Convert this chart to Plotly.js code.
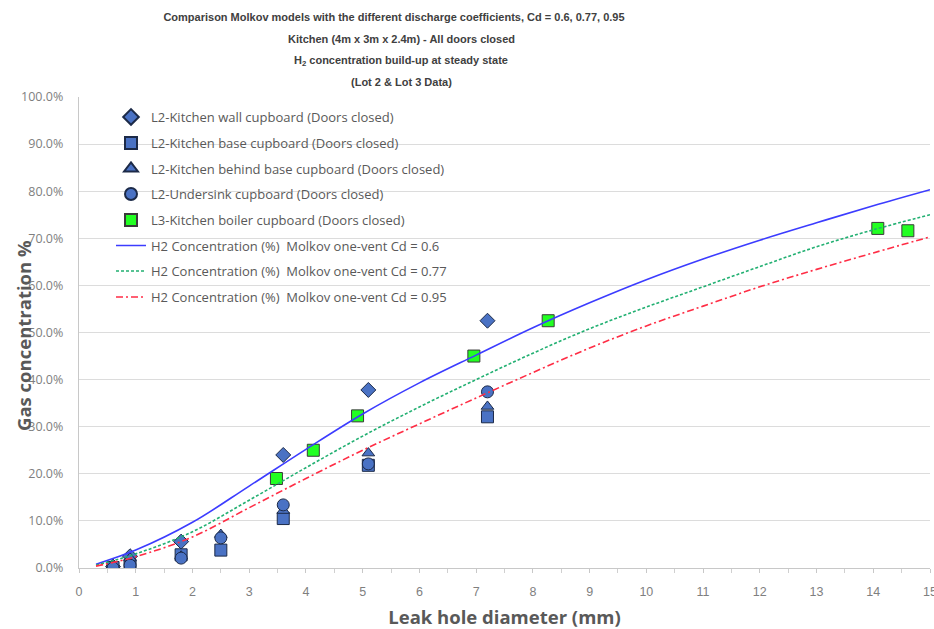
<!DOCTYPE html>
<html>
<head>
<meta charset="utf-8">
<script src="https://cdn.plot.ly/plotly-3.0.1.min.js"></script>
<style>html,body{margin:0;padding:0;background:#fff;}#chart{width:934px;height:629px;}</style>
</head>
<body>
<div id="chart"></div>
<script>
// ---- Measured data (leak hole diameter mm, gas concentration fraction) ----
const wallX = [0.6, 0.9, 1.8, 3.6, 5.1, 7.2];
const wallY = [0.003, 0.025, 0.056, 0.240, 0.378, 0.525];

const baseX = [0.6, 0.9, 1.8, 2.5, 3.6, 5.1, 7.2];
const baseY = [0.001, 0.006, 0.028, 0.038, 0.105, 0.218, 0.321];

const behindX = [0.6, 0.9, 1.8, 2.5, 3.6, 5.1, 7.2];
const behindY = [0.002, 0.021, 0.025, 0.071, 0.122, 0.244, 0.343];

const sinkX = [0.6, 0.9, 1.8, 2.5, 3.6, 5.1, 7.2];
const sinkY = [0.000, 0.006, 0.021, 0.064, 0.134, 0.221, 0.374];

const boilerX = [3.48, 4.13, 4.91, 6.96, 8.27, 14.08, 14.61];
const boilerY = [0.190, 0.250, 0.323, 0.450, 0.525, 0.721, 0.716];

// ---- Molkov one-vent model curves ----
const modelX = [0.3, 1, 2, 3, 4, 5, 6, 7, 8, 9, 10, 11, 12, 13, 14, 15];
const cd060Y = [0.008, 0.038, 0.097, 0.174, 0.252, 0.327, 0.393, 0.452, 0.510, 0.563, 0.612, 0.656, 0.696, 0.733, 0.769, 0.803];
const cd077Y = [0.006, 0.030, 0.077, 0.144, 0.213, 0.280, 0.342, 0.400, 0.456, 0.508, 0.554, 0.597, 0.640, 0.682, 0.718, 0.750];
const cd095Y = [0.004, 0.024, 0.066, 0.128, 0.190, 0.250, 0.306, 0.361, 0.415, 0.467, 0.514, 0.556, 0.597, 0.634, 0.669, 0.703];

const xTicks = [0,1,2,3,4,5,6,7,8,9,10,11,12,13,14,15];

const titleLines = [
  'Comparison Molkov models with the different discharge coefficients, Cd = 0.6, 0.77, 0.95',
  'Kitchen (4m x 3m x 2.4m) - All doors closed',
  'H<sub>2</sub> concentration build-up at steady state',
  '(Lot 2 & Lot 3 Data)'
];
const xTitle = 'Leak hole diameter (mm)';
const yTitle = 'Gas concentration %';

const names = [
  'L2-Kitchen wall cupboard (Doors closed)',
  'L2-Kitchen base cupboard (Doors closed)',
  'L2-Kitchen behind base cupboard (Doors closed)',
  'L2-Undersink cupboard (Doors closed)',
  'L3-Kitchen boiler cupboard (Doors closed)',
  'H2 Concentration (%)  Molkov one-vent Cd = 0.6',
  'H2 Concentration (%)  Molkov one-vent Cd = 0.77',
  'H2 Concentration (%)  Molkov one-vent Cd = 0.95'
];

const blueFill = '#4a72c4', blueEdge = '#1c2a48';
function mk(sym, size, fill, edge){ return {symbol: sym, size: size, color: fill, line: {color: edge, width: 1}}; }

const traces = [
  {x: wallX, y: wallY, name: names[0], mode: 'markers', marker: mk('diamond', 11.5, blueFill, blueEdge), legend: 'legend'},
  {x: baseX, y: baseY, name: names[1], mode: 'markers', marker: mk('square', 12, blueFill, blueEdge), legend: 'legend2'},
  {x: behindX, y: behindY, name: names[2], mode: 'markers', marker: mk('triangle-up', 11, blueFill, blueEdge), legend: 'legend3'},
  {x: sinkX, y: sinkY, name: names[3], mode: 'markers', marker: mk('circle', 12, blueFill, blueEdge), legend: 'legend4'},
  {x: boilerX, y: boilerY, name: names[4], mode: 'markers', marker: mk('square', 12, '#22ff22', '#3a3a3a'), legend: 'legend5'},
  {x: modelX, y: cd060Y, name: names[5], mode: 'lines', line: {color: '#3c3cff', width: 1.6, shape: 'spline'}, legend: 'legend6'},
  {x: modelX, y: cd077Y, name: names[6], mode: 'lines', line: {color: '#22b072', width: 1.6, dash: '3px,2px', shape: 'spline'}, legend: 'legend7'},
  {x: modelX, y: cd095Y, name: names[7], mode: 'lines', line: {color: '#ff2d45', width: 1.6, dash: '7px,3px,2px,3px', shape: 'spline'}, legend: 'legend8'}
];

// plot area: left 79, right 930, top 97, bottom 568
const L = 79, R = 930, T = 97, B = 568;
const pw = R - L, ph = B - T;
const legendRowsPx = [117, 143, 168.5, 194, 220, 245.5, 271, 297];
const legFont = {family: 'Open Sans, DejaVu Sans, sans-serif', size: 13, color: '#595959'};
const titleFont = {family: 'Liberation Sans, Arial, sans-serif', size: 11, color: '#404040', weight: 'bold'};

const layout = {
  width: 934, height: 629,
  margin: {l: L, r: 934 - R, t: T, b: 629 - B, pad: 0},
  paper_bgcolor: '#ffffff', plot_bgcolor: '#ffffff',
  showlegend: true,
  xaxis: {
    range: [0, 15], tickvals: xTicks, ticktext: xTicks.map(String),
    showgrid: false, zeroline: false,
    showline: true, linecolor: '#c8c8c8', linewidth: 1.2,
    ticks: 'outside', ticklen: 4, tickcolor: '#c8c8c8',
    minor: {dtick: 0.5, ticks: 'outside', ticklen: 4, tickcolor: '#d0d0d0', showgrid: false},
    tickfont: {family: 'Liberation Sans, Arial, sans-serif', size: 12.5, color: '#7f7f7f'},
    ticklabelstandoff: 8, ticklabeloverflow: 'allow',
    title: {text: xTitle, font: {family: 'Open Sans, sans-serif', size: 18.5, color: '#595959', weight: 'bold'}, standoff: 12},
    automargin: false
  },
  yaxis: {
    range: [0, 1], dtick: 0.1, tick0: 0, tickformat: '.1%',
    showgrid: true, gridcolor: '#dcdcdc', gridwidth: 1,
    zeroline: false, showline: true, linecolor: '#c8c8c8', linewidth: 1.2,
    ticks: '', ticklabelstandoff: 12,
    tickfont: {family: 'Open Sans, DejaVu Sans, sans-serif', size: 12.5, color: '#7f7f7f'},
    automargin: false
  },
  title: {
    text: titleLines[0],
    font: titleFont,
    xref: 'container', x: 394 / 934, xanchor: 'center',
    yref: 'container', y: 1 - 17 / 629, yanchor: 'middle'
  },
  annotations: titleLines.slice(1).map((t, i) => ({
    text: t, showarrow: false, xref: 'paper', yref: 'paper',
    x: (401 - L) / pw, xanchor: 'center',
    y: (B - [39, 61, 82][i]) / ph, yanchor: 'middle',
    font: titleFont
  })).concat([{
    text: yTitle, showarrow: false, textangle: -90,
    xref: 'paper', yref: 'paper',
    x: (23 - L) / pw, xanchor: 'center',
    y: (B - 336) / ph, yanchor: 'middle',
    font: {family: 'Open Sans, sans-serif', size: 18.5, color: '#595959', weight: 'bold'}
  }])
};

const legKeys = ['legend', 'legend2', 'legend3', 'legend4', 'legend5', 'legend6', 'legend7', 'legend8'];
legKeys.forEach((k, i) => {
  layout[k] = {
    x: (111 - L) / pw, xanchor: 'left', xref: 'paper',
    y: (B - legendRowsPx[i]) / ph, yanchor: 'middle', yref: 'paper',
    bgcolor: 'rgba(0,0,0,0)', borderwidth: 0, font: legFont,
    itemsizing: i < 5 ? 'constant' : 'trace', itemwidth: 30, tracegroupgap: 0
  };
});

Plotly.newPlot('chart', traces, layout, {displayModeBar: false, staticPlot: true});
</script>
</body>
</html>
